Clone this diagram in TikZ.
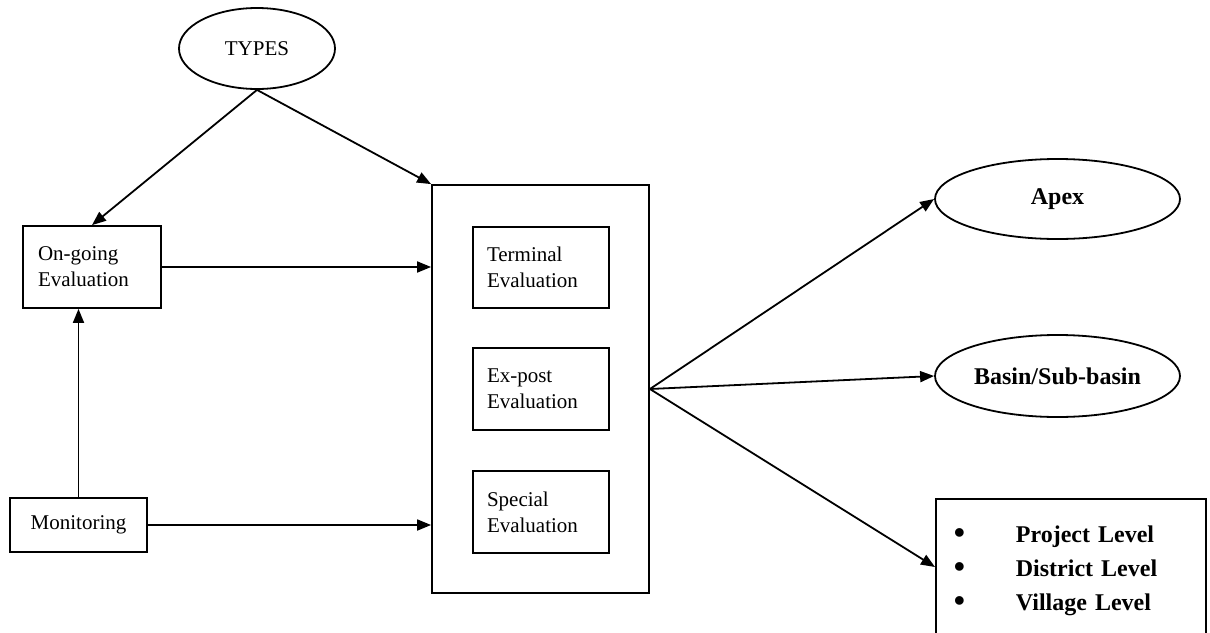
\documentclass[tikz,border=0pt]{standalone}
\usepackage{fontspec}
\setmainfont{Liberation Serif}
\usetikzlibrary{shapes.geometric,arrows.meta}
\tikzset{
  line/.style={line width=1.8pt},
  arr/.style={line, -{Triangle[length=14pt,width=11pt]}},
  oval/.style={ellipse, draw, line width=1.8pt, inner sep=0pt},
  txtbox/.style={rectangle, draw, line width=1.8pt, align=left, inner sep=0pt,
     font=\fontsize{21}{26}\selectfont},
  lvfont/.style={font=\fontsize{24}{34}\selectfont\bfseries}
}
\newcommand{\lvitem}[1]{\makebox[62pt][l]{\raisebox{-1pt}{\fontsize{32}{34}\selectfont\textbullet}}#1}
\begin{document}
\begin{tikzpicture}[x=1pt,y=-1pt]
\useasboundingbox (0,0) rectangle (1210,632);
% left column
\node[oval, minimum width=156pt, minimum height=81pt, font=\fontsize{21}{26}\selectfont] (types) at (257,48.5) {TYPES};
\node[txtbox, minimum width=138pt, minimum height=82pt, text width=108pt] (on) at (92,267) {On-going\\Evaluation};
\node[txtbox, minimum width=137pt, minimum height=54pt, align=center] (mon) at (78.5,525) {Monitoring};
% big box and inner boxes
\node[rectangle, draw, line width=1.8pt, minimum width=217pt, minimum height=408pt] (big) at (540.5,389) {};
\node[txtbox, minimum width=136pt, minimum height=81pt, text width=108pt] (term) at (541,267.5) {Terminal\\Evaluation};
\node[txtbox, minimum width=136pt, minimum height=82pt, text width=108pt] (expost) at (541,389) {Ex-post\\Evaluation};
\node[txtbox, minimum width=136pt, minimum height=82pt, text width=108pt] (special) at (541,512) {Special\\Evaluation};
% right column
\node[oval, minimum width=245pt, minimum height=80pt, lvfont] (apex) at (1057.5,199) {Apex};
\node[oval, minimum width=245pt, minimum height=82pt, lvfont] (basin) at (1057.5,376) {Basin/Sub-basin};
\node[rectangle, draw, line width=1.8pt, anchor=north west, align=left, inner xsep=18pt, inner ysep=26.5pt,
      text width=234pt, lvfont] (lv) at (935,498)
  {\lvitem{Project Level}\\ \lvitem{District Level}\\ \lvitem{Village Level}\\[30pt]\mbox{}};
% connectors
\draw[arr] (types.south) -- (on.north);
\draw[arr] (types.south) -- (big.north west);
\draw[arr] (mon.north) -- (mon.north |- on.south);
\draw[arr] (on.east) -- (on.east -| big.west);
\draw[arr] (mon.east) -- (mon.east -| big.west);
\draw[arr] (big.east) -- (apex.west);
\draw[arr] (big.east) -- (basin.west);
\draw[arr] (big.east) -- ([yshift=-69pt]lv.north west);
\end{tikzpicture}
\end{document}
